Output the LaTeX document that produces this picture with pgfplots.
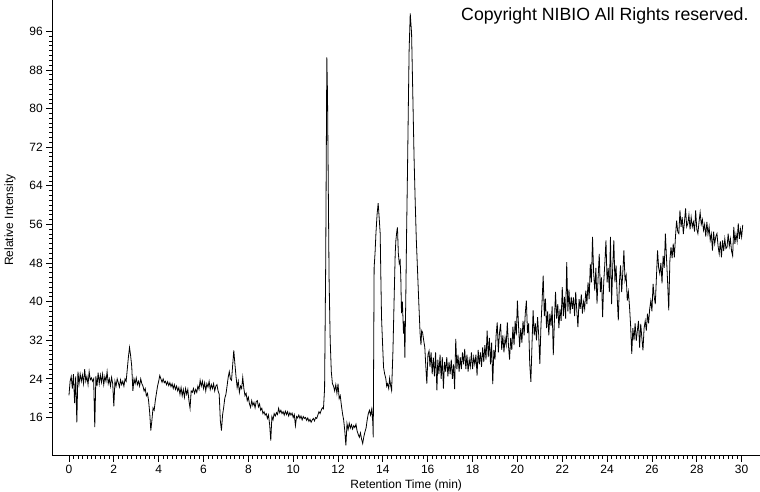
\documentclass[border=0pt]{standalone}
\usepackage{pgfplots}
\pgfplotsset{compat=1.18}
\usepackage{fontspec}
\setmainfont{Liberation Sans}
\begin{document}
\begin{tikzpicture}[x=1pt,y=1pt]
\useasboundingbox (0,0) rectangle (760,492);
\begin{axis}[
  at={(52.3pt,36.3pt)}, anchor=south west,
  scale only axis, width=707.7pt, height=455.7pt,
  xmin=-0.744, xmax=30.82, ymin=8.08, ymax=102.5,
  axis x line*=bottom, axis y line*=left,
  x axis line style={-}, y axis line style={-},
  tick align=outside,
  xtick={0,2,...,30}, ytick={16,24,...,96},
  minor x tick num=9, minor y tick num=7,
  major tick length=6pt, minor tick length=3pt,
  tick style={black, line width=0.8pt},
  axis line style={black, line width=0.9pt},
  /pgf/number format/assume math mode=true,
  ticklabel style={font=\fontsize{12}{14}\selectfont},
  xlabel={Retention Time (min)}, ylabel={Relative Intensity},
  label style={font=\fontsize{12}{14}\selectfont},
  xlabel style={at={(axis description cs:0.5,-0.0643)}, anchor=center},
  ylabel style={at={(axis description cs:-0.0598,0.517)}, anchor=center},
  clip=true,
]
\addplot[black, line width=0.8pt] coordinates {
(0.00,20.6)(0.05,23.5)(0.10,24.5)(0.15,22.0)(0.20,25.0)(0.25,19.0)(0.30,24.5)(0.35,15.0)(0.40,25.5)(0.45,23.0)
(0.50,25.0)(0.55,23.5)(0.60,24.8)(0.65,23.0)(0.70,26.0)(0.75,23.5)(0.80,24.5)(0.85,22.8)(0.90,25.5)(0.95,23.8)
(1.00,24.2)(1.05,23.5)(1.10,24.0)(1.15,14.0)(1.20,24.5)(1.25,22.5)(1.30,25.3)(1.35,23.0)(1.40,24.8)(1.45,23.3)
(1.50,25.0)(1.55,22.8)(1.60,24.5)(1.65,23.5)(1.70,25.5)(1.75,23.0)(1.80,24.0)(1.85,22.5)(1.90,24.3)(1.95,23.0)
(2.00,18.3)(2.05,23.5)(2.10,22.5)(2.15,24.0)(2.20,23.2)(2.25,22.3)(2.30,23.8)(2.35,22.8)(2.40,23.5)(2.45,22.5)
(2.50,24.0)(2.55,23.5)(2.60,26.0)(2.65,28.5)(2.70,30.5)(2.75,28.8)(2.80,26.5)(2.85,21.5)(2.90,24.0)(2.95,23.0)
(3.00,24.2)(3.05,22.8)(3.10,23.5)(3.15,22.5)(3.20,24.0)(3.25,23.0)(3.30,22.5)(3.35,21.5)(3.40,22.0)(3.45,20.5)
(3.50,21.0)(3.55,19.5)(3.60,17.0)(3.65,13.3)(3.70,15.5)(3.75,18.0)(3.80,17.5)(3.85,19.5)(3.90,21.0)(3.95,22.5)
(4.00,23.5)(4.05,24.7)(4.10,24.0)(4.15,23.3)(4.20,24.0)(4.25,23.2)(4.30,23.5)(4.35,22.8)(4.40,23.4)(4.45,22.6)
(4.50,23.2)(4.55,22.4)(4.60,23.0)(4.65,22.0)(4.70,22.8)(4.75,21.8)(4.80,22.5)(4.85,21.5)(4.90,22.2)(4.95,20.8)
(5.00,22.2)(5.05,20.5)(5.10,21.8)(5.15,20.2)(5.20,22.0)(5.25,20.8)(5.30,21.8)(5.35,19.5)(5.40,17.9)(5.45,21.5)
(5.50,21.2)(5.55,22.0)(5.60,21.0)(5.65,21.8)(5.70,21.2)(5.75,22.5)(5.80,21.8)(5.85,23.7)(5.90,22.5)(5.95,23.5)
(6.00,22.0)(6.05,23.2)(6.10,21.5)(6.15,23.0)(6.20,22.3)(6.25,23.5)(6.30,21.8)(6.35,22.8)(6.40,22.0)(6.45,23.0)
(6.50,21.5)(6.55,22.5)(6.60,22.8)(6.65,21.5)(6.70,20.8)(6.75,15.4)(6.80,13.3)(6.85,16.5)(6.90,18.1)(6.95,20.0)
(7.00,20.8)(7.05,22.5)(7.10,24.3)(7.15,25.5)(7.20,24.0)(7.25,23.7)(7.30,26.8)(7.35,29.9)(7.40,27.1)(7.45,24.5)
(7.50,22.2)(7.55,23.5)(7.60,21.2)(7.65,22.5)(7.70,22.0)(7.75,24.3)(7.80,22.0)(7.85,20.5)(7.90,21.0)(7.95,19.5)
(8.00,20.2)(8.05,18.8)(8.10,18.1)(8.15,19.5)(8.20,18.5)(8.25,19.1)(8.30,18.0)(8.35,19.3)(8.40,19.5)(8.45,18.2)
(8.50,18.8)(8.55,17.5)(8.60,17.9)(8.65,16.8)(8.70,17.2)(8.75,16.5)(8.80,16.8)(8.85,15.8)(8.90,16.5)(8.95,14.5)
(9.00,11.2)(9.05,16.2)(9.10,15.5)(9.15,16.8)(9.20,16.3)(9.25,17.0)(9.30,16.6)(9.35,17.9)(9.40,17.0)(9.45,17.5)
(9.50,16.8)(9.55,17.2)(9.60,16.5)(9.65,17.3)(9.70,16.6)(9.75,17.2)(9.80,16.3)(9.85,17.0)(9.90,16.5)(9.95,16.9)
(10.00,16.0)(10.05,16.6)(10.10,14.3)(10.15,16.2)(10.20,15.9)(10.25,16.5)(10.30,15.8)(10.35,16.3)(10.40,15.5)(10.45,16.2)
(10.50,15.8)(10.55,16.0)(10.60,15.4)(10.65,15.9)(10.70,15.2)(10.75,15.6)(10.80,15.0)(10.85,15.5)(10.90,15.8)(10.95,15.3)
(11.00,16.0)(11.05,15.8)(11.10,16.5)(11.15,17.2)(11.20,16.8)(11.25,17.5)(11.30,18.0)(11.35,17.8)(11.40,22.0)(11.45,48.0)
(11.50,90.6)(11.53,83.1)(11.56,66.6)(11.60,45.0)(11.65,32.0)(11.70,25.5)(11.75,23.0)(11.80,22.5)(11.85,21.5)(11.90,22.8)
(11.95,21.0)(12.00,23.0)(12.05,19.9)(12.10,20.5)(12.15,18.5)(12.20,16.8)(12.25,15.5)(12.30,13.3)(12.35,10.2)(12.40,14.7)
(12.45,13.5)(12.50,14.8)(12.55,13.8)(12.60,14.5)(12.65,13.6)(12.70,14.3)(12.75,13.9)(12.80,14.6)(12.85,13.2)(12.90,12.5)
(12.95,11.9)(13.00,12.8)(13.05,11.5)(13.10,10.6)(13.15,12.0)(13.20,13.0)(13.25,13.8)(13.30,15.5)(13.35,16.8)(13.40,17.5)
(13.45,16.5)(13.50,17.7)(13.55,15.0)(13.57,11.9)(13.61,47.1)(13.65,50.0)(13.69,54.1)(13.74,58.0)(13.79,60.4)(13.84,57.0)
(13.88,54.1)(13.91,45.0)(13.94,36.7)(13.98,32.0)(14.03,26.4)(14.08,25.0)(14.13,24.1)(14.17,22.5)(14.21,23.0)(14.26,22.0)
(14.30,24.1)(14.35,22.5)(14.39,21.6)(14.45,30.0)(14.50,40.2)(14.55,50.0)(14.58,52.7)(14.62,54.5)(14.65,55.4)(14.69,50.0)
(14.73,47.9)(14.77,48.5)(14.80,45.0)(14.83,37.6)(14.87,40.0)(14.92,33.4)(14.95,36.0)(14.98,28.4)(15.02,40.0)(15.06,55.0)
(15.10,67.8)(15.14,82.0)(15.17,92.0)(15.22,99.7)(15.28,95.6)(15.34,81.7)(15.39,70.0)(15.44,61.0)(15.49,53.0)(15.54,47.1)
(15.60,40.0)(15.66,33.4)(15.70,31.0)(15.73,34.0)(15.77,33.6)(15.82,32.0)(15.87,30.5)(15.91,27.0)(15.96,23.0)(16.01,29.0)
(16.06,29.8)(16.10,26.5)(16.15,29.5)(16.20,25.0)(16.25,28.4)(16.30,24.5)(16.35,29.5)(16.41,21.6)(16.45,28.0)(16.50,25.0)
(16.55,29.0)(16.60,24.0)(16.65,28.5)(16.70,22.0)(16.75,27.5)(16.80,25.5)(16.85,28.5)(16.90,24.5)(16.95,27.5)(17.00,25.0)
(17.05,28.0)(17.10,24.0)(17.15,27.0)(17.20,21.9)(17.25,32.3)(17.30,26.0)(17.35,29.0)(17.40,25.5)(17.45,28.5)(17.50,26.0)
(17.55,29.5)(17.60,27.0)(17.65,30.2)(17.70,26.0)(17.75,29.0)(17.80,25.5)(17.85,28.0)(17.90,26.5)(17.95,29.5)(18.00,26.0)
(18.05,28.5)(18.10,27.0)(18.15,29.0)(18.20,24.7)(18.25,30.0)(18.30,27.0)(18.35,29.5)(18.40,26.5)(18.45,30.5)(18.50,27.5)
(18.55,31.0)(18.60,28.0)(18.65,34.0)(18.70,28.5)(18.75,32.5)(18.80,27.0)(18.85,31.5)(18.90,22.9)(18.95,30.0)(19.00,28.0)
(19.05,33.0)(19.10,35.7)(19.15,29.5)(19.20,33.5)(19.25,35.4)(19.30,30.0)(19.35,33.0)(19.40,29.5)(19.45,32.5)(19.50,31.0)
(19.55,35.7)(19.60,31.0)(19.65,28.0)(19.70,32.5)(19.75,30.0)(19.80,34.8)(19.85,31.0)(19.90,36.0)(19.95,33.0)(20.00,40.2)
(20.05,35.0)(20.10,30.6)(20.15,34.5)(20.20,31.5)(20.25,36.0)(20.30,33.0)(20.35,37.5)(20.40,40.2)(20.45,33.5)(20.50,35.5)
(20.55,27.1)(20.60,23.4)(20.65,31.0)(20.70,38.2)(20.75,33.0)(20.80,35.5)(20.85,32.0)(20.90,36.8)(20.95,33.0)(21.00,27.1)
(21.05,35.0)(21.10,40.0)(21.15,45.4)(21.20,37.0)(21.25,40.6)(21.30,34.5)(21.35,38.0)(21.40,33.0)(21.45,37.5)(21.50,35.0)
(21.55,39.0)(21.60,28.9)(21.65,36.0)(21.70,42.0)(21.75,36.5)(21.80,39.5)(21.85,34.5)(21.90,38.5)(21.95,36.0)(22.00,43.0)
(22.05,37.0)(22.10,41.0)(22.15,36.5)(22.20,48.2)(22.25,38.0)(22.30,42.5)(22.35,37.5)(22.40,41.0)(22.45,38.5)(22.50,40.9)
(22.55,37.0)(22.60,42.0)(22.65,38.0)(22.70,34.7)(22.75,40.5)(22.80,38.5)(22.85,41.5)(22.90,37.5)(22.95,40.0)(23.00,38.5)
(23.05,42.3)(23.10,39.5)(23.15,44.0)(23.20,40.5)(23.25,47.8)(23.30,44.0)(23.35,53.4)(23.40,46.0)(23.45,42.3)(23.50,47.0)
(23.55,39.6)(23.60,45.0)(23.65,49.9)(23.70,42.0)(23.75,45.0)(23.80,36.8)(23.85,44.0)(23.90,48.0)(23.95,52.7)(24.00,44.0)
(24.05,47.0)(24.10,42.0)(24.15,53.4)(24.20,39.5)(24.25,47.0)(24.30,52.7)(24.35,44.0)(24.40,47.5)(24.45,41.0)(24.50,36.1)
(24.55,44.0)(24.60,47.5)(24.65,42.0)(24.70,46.0)(24.75,50.6)(24.80,44.4)(24.85,45.5)(24.90,40.2)(24.95,42.0)(25.00,39.0)
(25.05,35.0)(25.10,29.2)(25.15,34.5)(25.20,32.0)(25.25,35.5)(25.30,31.9)(25.35,34.0)(25.40,36.0)(25.45,30.5)(25.50,35.4)
(25.55,32.5)(25.60,29.9)(25.65,34.5)(25.70,36.0)(25.75,34.0)(25.80,37.5)(25.85,35.5)(25.90,38.5)(25.95,40.2)(26.00,38.0)
(26.05,43.7)(26.10,41.0)(26.15,39.5)(26.20,45.0)(26.25,50.6)(26.30,47.0)(26.35,45.8)(26.40,48.0)(26.45,43.8)(26.50,49.5)
(26.55,47.0)(26.60,54.1)(26.65,49.0)(26.70,44.0)(26.75,38.2)(26.80,48.5)(26.85,51.3)(26.90,49.0)(26.95,52.0)(27.00,49.2)
(27.05,53.5)(27.10,56.8)(27.15,54.5)(27.20,54.1)(27.25,58.9)(27.30,55.5)(27.35,57.5)(27.40,54.0)(27.45,56.5)(27.50,59.3)
(27.55,55.5)(27.60,56.2)(27.65,58.0)(27.70,55.0)(27.75,57.5)(27.80,55.5)(27.85,56.5)(27.90,54.5)(27.95,58.9)(28.00,55.0)
(28.05,54.1)(28.10,56.5)(28.15,58.5)(28.20,56.0)(28.25,57.0)(28.30,54.8)(28.35,56.0)(28.40,53.5)(28.45,56.5)(28.50,54.0)
(28.55,55.5)(28.60,52.7)(28.65,54.0)(28.70,50.6)(28.75,54.5)(28.80,52.0)(28.85,53.5)(28.90,54.1)(28.95,51.5)(29.00,49.9)
(29.05,52.5)(29.10,49.2)(29.15,52.7)(29.20,50.5)(29.25,53.0)(29.30,51.0)(29.35,51.3)(29.40,54.1)(29.45,51.5)(29.50,53.0)
(29.55,50.5)(29.60,49.5)(29.65,55.5)(29.70,52.0)(29.75,54.0)(29.80,52.5)(29.85,56.2)(29.90,53.0)(29.95,55.0)(30.00,53.4)
(30.05,55.9)
};
\node[anchor=base east, font=\fontsize{17.7}{20}\selectfont] at (axis description cs:0.9887,0.955) {Copyright NIBIO All Rights reserved.};
\end{axis}
\end{tikzpicture}
\end{document}
